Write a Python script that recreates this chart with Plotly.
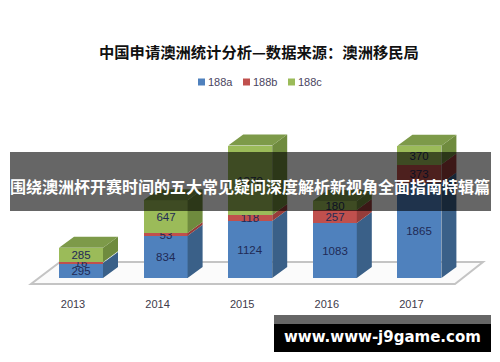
import plotly.graph_objects as go

years = ["2013", "2014", "2015", "2016", "2017"]
s_a = [295, 834, 1124, 1083, 1865]
s_b = [16, 53, 118, 257, 373]
s_c = [285, 647, 1370, 180, 370]
names = ["188a", "188b", "188c"]
title = "中国申请澳洲统计分析—数据来源\uff1a澳洲移民局"
banner = "围绕澳洲杯开赛时间的五大常见疑问深度解析新视角全面指南特辑篇"
site = "www.www-j9game.com"

PAGE = 8               # page margin of the html body
W, H = 500 - PAGE, 362 - PAGE
FONT = "Noto Sans CJK SC"
PX_X = 84.6            # pixels per category
PX_Y = 0.0507          # pixels per unit
X0, Y0 = 81.0 - PAGE, 278.0 - PAGE   # pixel of category 0 / value 0
BOTTOM = 296 - PAGE
BAR_W = 44 / PX_X
DX, DY = 15 / PX_X, 11 / PX_Y
TICK_SHIFT = 8 / PX_X

front = ["#4f81bd", "#c0504d", "#9bbb59"]
side = ["#3a6088", "#963d3a", "#6f8b3e"]
top_col = "#7d9a49"


def px(x):
    return (x - PAGE) / W


def py(y):
    return (BOTTOM - (y - PAGE)) / BOTTOM


idx = list(range(len(years)))
fig = go.Figure()

bottoms = [0] * len(years)
for k, vals in enumerate([s_a, s_b, s_c]):
    fig.add_trace(go.Bar(x=idx, y=vals, base=bottoms, width=BAR_W, name=names[k],
                         marker=dict(color=front[k], line=dict(width=0)),
                         text=[str(v) for v in vals], textposition="inside",
                         insidetextanchor="middle", textangle=0, constraintext="none",
                         textfont=dict(family="Liberation Sans", size=11.5, color="#1f2a55"),
                         cliponaxis=False, showlegend=False))
    sx, sy = [], []
    for i, b, v in zip(idx, bottoms, vals):
        r = i + BAR_W / 2
        sx += [r, r + DX, r + DX, r, r, None]
        sy += [b, b + DY, b + v + DY, b + v, b, None]
    fig.add_trace(go.Scatter(x=sx, y=sy, mode="lines", fill="toself", fillcolor=side[k],
                             line=dict(width=0, color=side[k]), showlegend=False, hoverinfo="skip"))
    bottoms = [b + v for b, v in zip(bottoms, vals)]

tx, ty = [], []
for i, t in zip(idx, bottoms):
    l, r = i - BAR_W / 2, i + BAR_W / 2
    tx += [l, r, r + DX, l + DX, l, None]
    ty += [t, t, t + DY, t + DY, t, None]
fig.add_trace(go.Scatter(x=tx, y=ty, mode="lines", fill="toself", fillcolor=top_col,
                         line=dict(width=0, color=top_col), showlegend=False, hoverinfo="skip"))

floor_path = "M %f,%f L %f,%f L %f,%f L %f,%f Z" % (
    -50 / PX_X, -6 / PX_Y, 374 / PX_X, -6 / PX_Y, 402 / PX_X, 16 / PX_Y, -21 / PX_X, 16 / PX_Y)

shapes = [
    dict(type="path", path=floor_path, layer="below", fillcolor="#fbfbfb",
         line=dict(color="#c4c4c4", width=2)),
    dict(type="rect", xref="paper", yref="paper", layer="above",
         x0=px(10), x1=px(491), y0=py(211), y1=py(152),
         fillcolor="rgba(0,0,0,0.6)", line=dict(width=0)),
    dict(type="rect", xref="paper", yref="paper", layer="above",
         x0=px(274), x1=px(491), y0=py(324), y1=py(315),
         fillcolor="#666666", line=dict(width=0)),
    dict(type="rect", xref="paper", yref="paper", layer="above",
         x0=px(274), x1=px(491), y0=py(352), y1=py(324),
         fillcolor="#000000", line=dict(width=0)),
]
annotations = [
    dict(text="<b>%s</b>" % title, xref="paper", yref="paper", x=px(258.5), y=py(51),
         showarrow=False, xanchor="center", yanchor="middle",
         font=dict(family=FONT, size=15.3, color="#111111")),
    dict(text="<b>%s</b>" % banner, xref="paper", yref="paper", x=px(250), y=py(186),
         showarrow=False, xanchor="center", yanchor="middle",
         font=dict(family=FONT, size=16, color="white")),
    dict(text="<b>%s</b>" % site, xref="paper", yref="paper", x=px(382), y=py(337),
         showarrow=False, xanchor="center", yanchor="middle",
         font=dict(family="DejaVu Sans", size=15, color="white")),
]
# legend key
for k, name in enumerate(names):
    left = 198 + 45 * k
    shapes.append(dict(type="rect", xref="paper", yref="paper", layer="above",
                       x0=px(left), x1=px(left + 7), y0=py(85.5), y1=py(78.5),
                       fillcolor=front[k], line=dict(width=0)))
    annotations.append(dict(text=name, xref="paper", yref="paper", x=px(left + 10), y=py(82),
                            showarrow=False, xanchor="left", yanchor="middle", xshift=-2,
                            font=dict(family="Liberation Sans", size=11, color="#4a4560")))

fig.update_layout(
    width=W, height=H, autosize=False,
    margin=dict(l=0, r=0, t=0, b=H - BOTTOM),
    paper_bgcolor="white", plot_bgcolor="white",
    barmode="overlay", bargap=0,
    showlegend=False,
    xaxis=dict(range=[-X0 / PX_X, (W - X0) / PX_X], tickvals=[i - TICK_SHIFT for i in idx], ticktext=years,
               showgrid=False, zeroline=False, showline=False, ticks="",
               tickfont=dict(family="Liberation Sans", size=11, color="#403a4a")),
    yaxis=dict(range=[(Y0 - BOTTOM) / PX_Y, Y0 / PX_Y], visible=False),
    shapes=shapes,
    annotations=annotations,
)
fig.write_html("out.html")
